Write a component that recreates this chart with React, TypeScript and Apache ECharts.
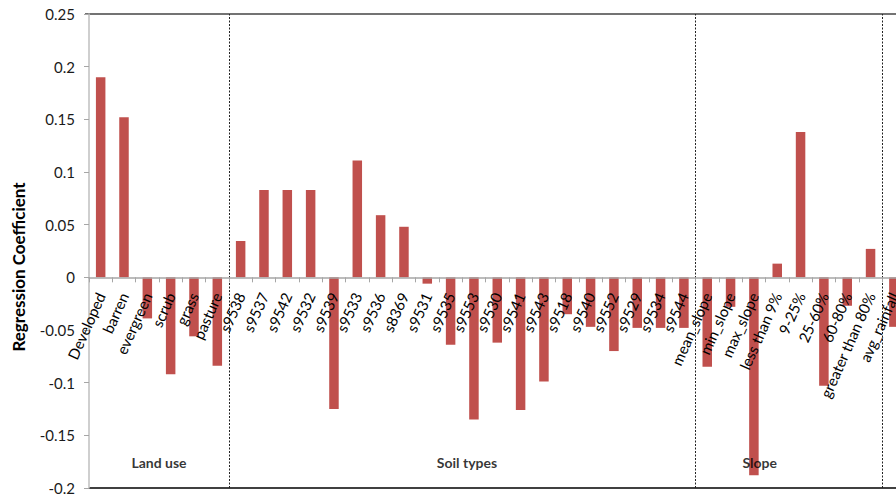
import React, { useEffect, useRef } from "react";
import * as echarts from "echarts";

const landUse = ["Developed", "barren", "evergreen", "scrub", "grass", "pasture"];
const soilTypes = [
  "s9538", "s9537", "s9542", "s9532", "s9539", "s9533", "s9536", "s8369", "s9531", "s9535",
  "s9553", "s9530", "s9541", "s9543", "s9518", "s9540", "s9552", "s9529", "s9534", "s9544",
];
const slope = ["mean_slope", "min_slope", "max_slope", "less than 9%", "9-25%", "25-60%", "60-80%", "greater than 80%"];
const climate = ["avg_rainfall"];

const categories = [...landUse, ...soilTypes, ...slope, ...climate];

const coefficients = [
  0.19, 0.152, -0.039, -0.092, -0.056, -0.084,
  0.0345, 0.083, 0.083, 0.083, -0.125, 0.111, 0.059, 0.048, -0.006, -0.064,
  -0.135, -0.062, -0.126, -0.099, -0.035, -0.047, -0.07, -0.048, -0.048, -0.048,
  -0.085, -0.028, -0.188, 0.013, 0.138, -0.103, -0.027, 0.027,
  -0.047,
];

const groupNames = ["Land use", "Soil types", "Slope"];
const groupBoundaries = [
  landUse.length,
  landUse.length + soilTypes.length,
  landUse.length + soilTypes.length + slope.length,
];
// label anchor positions in category units (layout)
const groupLabelX = [3.0, 16.2, 28.75];
const groupLabelY = -0.176;

const Y_MIN = -0.2;
const Y_MAX = 0.25;
const Y_STEP = 0.05;

const FONT = "Lato, 'Liberation Sans', sans-serif";

export default function App() {
  const ref = useRef<HTMLDivElement>(null);
  useEffect(() => {
    if (!ref.current) return;
    const chart = echarts.init(ref.current, undefined, { renderer: "svg" });
    const gridLeft = 89;
    const gridTop = 14;
    const gridHeight = 474;
    const gridWidth = categories.length * 23.33;
    // place the category axis on the zero line
    const zeroOffset = -gridHeight * (0 - Y_MIN) / (Y_MAX - Y_MIN);
    const gridBox = {
      left: gridLeft,
      top: gridTop,
      width: gridWidth,
      height: gridHeight,
      containLabel: false,
      outerBoundsMode: "none",
    };
    chart.setOption({
      animation: false,
      backgroundColor: "#ffffff",
      grid: [gridBox, { ...gridBox }],
      xAxis: [
        {
          type: "category",
          gridIndex: 0,
          data: categories,
          position: "bottom",
          offset: zeroOffset,
          z: 10,
          axisLine: { onZero: false, lineStyle: { color: "#a6a6a6", width: 1.5 } },
          axisTick: { show: true, length: 5, inside: false, lineStyle: { color: "#a6a6a6", width: 1 } },
          axisLabel: {
            rotate: 66,
            interval: 0,
            margin: 16,
            color: "#000",
            fontSize: 15,
            fontFamily: FONT,
            hideOverlap: false,
          },
          splitLine: { show: false },
        },
        {
          type: "value",
          gridIndex: 1,
          min: 0,
          max: categories.length,
          show: false,
        },
      ],
      yAxis: [
        {
          type: "value",
          gridIndex: 0,
          min: Y_MIN,
          max: Y_MAX,
          interval: Y_STEP,
          name: "Regression Coefficient",
          nameLocation: "middle",
          nameGap: 62,
          nameTextStyle: {
            fontFamily: FONT,
            fontSize: 17,
            fontWeight: "bold",
            color: "#000",
            padding: [0, 32, 0, 0],
          },
          axisLine: { show: true, onZero: false, lineStyle: { color: "#bfbfbf", width: 1.5 } },
          axisTick: { show: true, length: 5, lineStyle: { color: "#a6a6a6" } },
          axisLabel: {
            margin: 14,
            color: "#1a1a1a",
            fontSize: 15,
            fontFamily: FONT,
            formatter: (v: number) => String(+v.toFixed(2)),
          },
          splitLine: { show: false },
        },
        {
          type: "value",
          gridIndex: 1,
          min: Y_MIN,
          max: Y_MAX,
          interval: Y_STEP,
          show: false,
        },
      ],
      graphic: [
        {
          type: "line",
          shape: { x1: gridLeft - 4, y1: gridTop, x2: 896, y2: gridTop },
          style: { stroke: "#737373", lineWidth: 2 },
          silent: true,
        },
        {
          type: "line",
          shape: { x1: gridLeft, y1: gridTop + gridHeight, x2: 896, y2: gridTop + gridHeight },
          style: { stroke: "#000", lineWidth: 1.5 },
          silent: true,
        },
      ],
      series: [
        {
          type: "bar",
          data: coefficients,
          barWidth: 9.5,
          itemStyle: { color: "#c0504d" },
          xAxisIndex: 0,
          yAxisIndex: 0,
          z: 2,
        },
        {
          type: "scatter",
          xAxisIndex: 1,
          yAxisIndex: 1,
          symbolSize: 0,
          silent: true,
          z: 11,
          data: groupNames.map((n, i) => ({ name: n, value: [groupLabelX[i], groupLabelY] })),
          label: {
            show: true,
            position: "inside",
            formatter: (p: any) => p.name,
            fontFamily: FONT,
            fontSize: 14,
            fontWeight: "bold",
            color: "#000",
          },
          markLine: {
            symbol: "none",
            silent: true,
            label: { show: false },
            lineStyle: { type: [2, 1.5], color: "#222", width: 1 },
            data: groupBoundaries.map((b) => ({ xAxis: b })),
          },
        },
      ],
    });
    return () => chart.dispose();
  }, []);
  return <div ref={ref} style={{ position: "fixed", left: 0, top: 0, width: 896, height: 495 }} />;
}
